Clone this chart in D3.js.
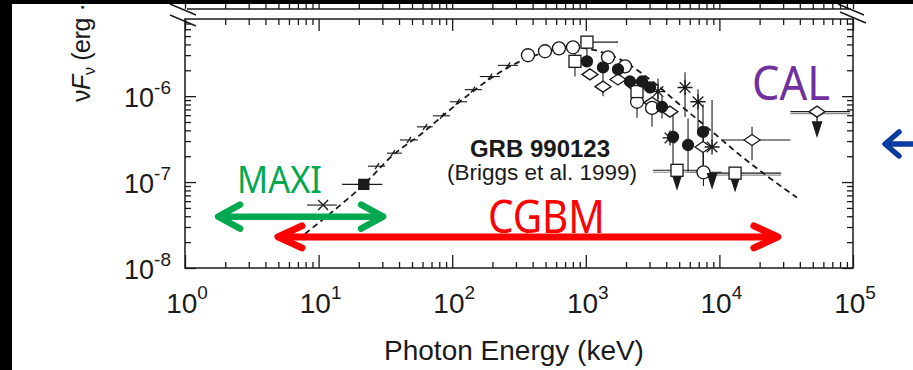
<!DOCTYPE html>
<html>
<head>
<meta charset="utf-8">
<script src="https://cdn.jsdelivr.net/npm/d3@7"></script>
<style>
  body { margin: 0; background: #fff; }
  svg { display: block; }
</style>
</head>
<body>
<div id="vis"></div>
<script>
const W = 913, H = 370;
const frame = { left: 185, right: 853, top: 19, bottom: 268 };

// axis ticks (keV, erg cm^-2 s^-1)
const xMajor = [1, 10, 100, 1000, 1e4, 1e5];
const xExp = ["0", "1", "2", "3", "4", "5"];
const yMajor = [1e-8, 1e-7, 1e-6];
const yExp = ["-8", "-7", "-6"];

// dashed Band-function fit
const modelE = [7.9, 13.3, 21.9, 36, 57.4, 88.3, 136, 209, 322, 495, 762, 1172, 1803, 3025, 5070, 8510, 14260, 23900, 38100];
const modelF = [2.5e-8, 4.8e-8, 9.4e-8, 2.06e-7, 3.53e-7, 6.2e-7, 1.07e-6, 1.74e-6, 2.54e-6, 3.24e-6, 3.71e-6, 3.42e-6, 2.68e-6, 1.56e-6, 7.9e-7, 4.05e-7, 2.06e-7, 1.11e-7, 6.6e-8];

// points: [E, F, Elo, Ehi, Flo, Fhi]
const lowPts = [
  [27.4, 1.53e-7, 23.4, 31.5], [36, 2.17e-7, 32.5, 42], [47.5, 3.09e-7, 40.6, 55.5],
  [62.6, 4.39e-7, 54.5, 71.6], [84, 5.9e-7, 71.6, 96], [110, 8.6e-7, 96, 129],
  [143, 1.19e-6, 124, 167], [192, 1.69e-6, 161, 228], [262, 2.28e-6, 220, 310]
];
const crossPts = [[10.8, 5.4e-8, 8.2, 13.7]];
const filledSquares = [[21.8, 9.4e-8, 15, 30]];
const openCircles = [
  [369, 2.99e-6], [495, 3.33e-6], [630, 3.6e-6], [802, 3.7e-6], [1466, 2.83e-6],
  [1965, 2.22e-6], [2417, 8.6e-7, null, null, 5.6e-7, 1.1e-6],
  [3131, 7.3e-7, null, null, 4.4e-7, 9e-7], [7600, 1.3e-7, 6000, 10400, 9e-8, 3.5e-7]
];
const openSquares = [
  [1020, 4.25e-6, 905, 1742, 2.68e-6, 5.0e-6], [830, 2.54e-6, null, null, 1.69e-6, 3.2e-6],
  [2417, 1.13e-6, null, null, 8.5e-7, 1.4e-6]
];
const filledCircles = [
  [1020, 2.54e-6], [1345, 2.16e-6], [1742, 2.05e-6], [2142, 1.48e-6], [2636, 1.48e-6],
  [3025, 1.26e-6], [3717, 7.5e-7, null, null, 5.5e-7, 1.0e-6],
  [4496, 3.35e-7, null, null, 1.5e-7, 6.0e-7], [5825, 2.7e-7, null, null, 1.3e-7, 5.5e-7],
  [7540, 3.84e-7, null, null, 1.5e-7, 8e-7]
];
const diamonds = [
  [1075, 1.79e-6], [1345, 1.29e-6, null, null, 1.0e-6, 1.9e-6], [1742, 1.56e-6],
  [2417, 1.26e-6], [3131, 8.4e-7], [4266, 6.6e-7], [7540, 2.56e-7],
  [17550, 3.09e-7, 10500, 34000, 1.8e-7, 4.4e-7]
];
const asterisks = [
  [3470, 1.13e-6, null, null, 8e-7, 1.6e-6], [5530, 1.26e-6, null, null, 5.7e-7, 1.9e-6],
  [6918, 8.6e-7, null, null, 3.5e-7, 1.2e-6], [4266, 3.26e-7], [8810, 2.56e-7, null, null, null, 9e-7]
];
// upper limits: [E, F, Ftip, Elo, Ehi, marker]
const upperLimits = [
  [4816, 1.37e-7, 8.4e-8, 3185, 8000, "square"],
  [8810, 1.3e-7, 8.6e-8, null, null, "none"],
  [13100, 1.27e-7, 8.0e-8, 8000, 29000, "square"],
  [53800, 6.6e-7, 3.44e-7, 34000, 95000, "diamond"]
];

// instrument bands drawn as annotations
const maxiRange = [1.77, 30.4], maxiLevel = 3.96e-8;
const cgbmRange = [4.96, 27400], cgbmLevel = 2.3e-8;

const svg = d3.select("#vis").append("svg")
  .attr("width", W)
  .attr("height", H)
  .style("font-family", "'Liberation Sans', Arial, sans-serif");

const x = d3.scaleLog().domain([1, 1e5]).range([frame.left, frame.right]);
const y = d3.scaleLog().domain([1e-8, 7.9e-6]).range([frame.bottom, frame.top]);

const xMinor = [1, 10, 100, 1000, 1e4].flatMap(p => [2, 3, 4, 5, 6, 7, 8, 9].map(k => k * p));
const yMinor = [1e-8, 1e-7, 1e-6].flatMap(p => [2, 3, 4, 5, 6, 7, 8, 9].map(k => k * p))
  .filter(v => v <= 7.9e-6);

const ink = "#1a1a1a";

function tickGroup(axis, transform) {
  const g = svg.append("g").attr("transform", transform).call(axis);
  g.select(".domain").remove();
  g.selectAll("line").attr("stroke", ink).attr("stroke-width", 1.3);
  return g;
}

// bottom
tickGroup(d3.axisBottom(x).tickValues(xMajor).tickSize(-13).tickFormat(""), `translate(0,${frame.bottom})`);
tickGroup(d3.axisBottom(x).tickValues(xMinor).tickSize(-6).tickFormat(""), `translate(0,${frame.bottom})`);
// top of frame
tickGroup(d3.axisTop(x).tickValues(xMajor).tickSize(-12).tickFormat(""), `translate(0,${frame.top})`);
tickGroup(d3.axisTop(x).tickValues(xMinor).tickSize(-6).tickFormat(""), `translate(0,${frame.top})`);
// broken upper panel line
tickGroup(d3.axisBottom(x).tickValues(xMajor).tickSize(-12).tickFormat(""), `translate(0,9)`);
tickGroup(d3.axisBottom(x).tickValues(xMinor).tickSize(-6).tickFormat(""), `translate(0,9)`);
// left / right
tickGroup(d3.axisLeft(y).tickValues(yMajor).tickSize(-11).tickFormat(""), `translate(${frame.left},0)`);
tickGroup(d3.axisLeft(y).tickValues(yMinor).tickSize(-6).tickFormat(""), `translate(${frame.left},0)`);
tickGroup(d3.axisRight(y).tickValues(yMajor).tickSize(-11).tickFormat(""), `translate(${frame.right},0)`);
tickGroup(d3.axisRight(y).tickValues(yMinor).tickSize(-6).tickFormat(""), `translate(${frame.right},0)`);

svg.append("rect")
  .attr("x", frame.left).attr("y", frame.top)
  .attr("width", frame.right - frame.left).attr("height", frame.bottom - frame.top)
  .attr("fill", "none").attr("stroke", ink).attr("stroke-width", 1.5);

svg.append("line")
  .attr("x1", frame.left + 2).attr("x2", frame.right - 2)
  .attr("y1", 9).attr("y2", 9)
  .attr("stroke", ink).attr("stroke-width", 1.5);

// break marks
[[170, 4, 196, 15], [170, 15, 196, 26], [838, 4, 864, 15], [840, 12, 866, 23]].forEach(s => {
  svg.append("line")
    .attr("x1", s[0]).attr("y1", s[1]).attr("x2", s[2]).attr("y2", s[3])
    .attr("stroke", ink).attr("stroke-width", 1.4);
});

// tick labels
const xl = svg.append("g").selectAll("text").data(xMajor).join("text")
  .attr("x", d => x(d) + 2)
  .attr("y", 313)
  .attr("text-anchor", "middle")
  .attr("font-size", 28)
  .attr("fill", ink);
xl.append("tspan").text("10");
xl.append("tspan").attr("dy", -14).attr("font-size", 19).text((d, i) => xExp[i]);

const yl = svg.append("g").selectAll("text").data(yMajor).join("text")
  .attr("x", 171)
  .attr("y", d => y(d) + 11)
  .attr("text-anchor", "end")
  .attr("font-size", 27)
  .attr("fill", ink);
yl.append("tspan").text("10");
yl.append("tspan").attr("dy", -13).attr("font-size", 19).text((d, i) => yExp[i]);

// axis titles
svg.append("text")
  .attr("x", 514).attr("y", 360)
  .attr("text-anchor", "middle")
  .attr("font-size", 28)
  .attr("fill", ink)
  .text("Photon Energy (keV)");

const yt = svg.append("text")
  .attr("transform", "translate(90,102) rotate(-90)")
  .attr("font-size", 25)
  .attr("letter-spacing", -0.4)
  .attr("fill", ink);
yt.append("tspan").text("ν");
yt.append("tspan").attr("font-style", "italic").text("F");
yt.append("tspan").attr("font-size", 16).attr("dy", 5).text("ν");
yt.append("tspan").attr("dy", -5).text(" (erg ·");

// error bars
const bars = svg.append("g").attr("stroke", ink).attr("stroke-width", 1.1);
function errorBars(data) {
  data.forEach(d => {
    if (d[2] != null) {
      bars.append("line")
        .attr("x1", x(d[2])).attr("x2", x(d[3]))
        .attr("y1", y(d[1])).attr("y2", y(d[1]));
    }
    if (d[4] != null || d[5] != null) {
      bars.append("line")
        .attr("x1", x(d[0])).attr("x2", x(d[0]))
        .attr("y1", y(d[4] ?? d[1])).attr("y2", y(d[5] ?? d[1]));
    }
  });
}
[lowPts, crossPts, filledSquares, openCircles, openSquares, filledCircles, diamonds, asterisks].forEach(errorBars);
upperLimits.forEach(d => {
  if (d[3] != null) {
    bars.append("line").attr("x1", x(d[3])).attr("x2", x(d[4])).attr("y1", y(d[1])).attr("y2", y(d[1]));
    bars.append("line").attr("x1", x(d[3])).attr("x2", x(d[4])).attr("y1", y(d[1]) + 2).attr("y2", y(d[1]) + 2)
      .attr("stroke", "#888");
  }
});

// model curve
const modelPts = modelE.map((e, i) => ({ e, f: modelF[i] }));
svg.append("path")
  .datum(modelPts)
  .attr("d", d3.line().x(d => x(d.e)).y(d => y(d.f)).curve(d3.curveMonotoneX))
  .attr("fill", "none")
  .attr("stroke", ink)
  .attr("stroke-width", 1.8)
  .attr("stroke-dasharray", "6,4");

// markers
const marks = svg.append("g").attr("stroke", ink).attr("stroke-width", 1.3);

lowPts.forEach(d => {
  marks.append("line")
    .attr("x1", x(d[0]) - 2).attr("x2", x(d[0]) + 2)
    .attr("y1", y(d[1]) + 3).attr("y2", y(d[1]) - 3);
});
crossPts.forEach(d => {
  const cx = x(d[0]), cy = y(d[1]);
  marks.append("path").attr("d", `M${cx - 5},${cy - 5}L${cx + 5},${cy + 5}M${cx - 5},${cy + 5}L${cx + 5},${cy - 5}`);
});
filledSquares.forEach(d => {
  marks.append("rect").attr("x", x(d[0]) - 5).attr("y", y(d[1]) - 5)
    .attr("width", 10).attr("height", 10).attr("fill", ink);
});
function diamondPath(cx, cy) {
  return `M${cx - 8},${cy}L${cx},${cy - 5.5}L${cx + 8},${cy}L${cx},${cy + 5.5}Z`;
}
diamonds.forEach(d => {
  marks.append("path").attr("d", diamondPath(x(d[0]), y(d[1]))).attr("fill", "#fff");
});
openCircles.forEach(d => {
  marks.append("circle").attr("cx", x(d[0])).attr("cy", y(d[1])).attr("r", 6.5).attr("fill", "#fff");
});
openSquares.forEach(d => {
  marks.append("rect").attr("x", x(d[0]) - 6).attr("y", y(d[1]) - 6)
    .attr("width", 12).attr("height", 12).attr("fill", "#fff");
});
filledCircles.forEach(d => {
  marks.append("circle").attr("cx", x(d[0])).attr("cy", y(d[1])).attr("r", 5.5).attr("fill", ink);
});
asterisks.forEach(d => {
  const cx = x(d[0]), cy = y(d[1]), r = 7.5;
  const p = [0, 45, 90, 135].map(a => {
    const t = a * Math.PI / 180;
    return `M${cx - r * Math.cos(t)},${cy - r * Math.sin(t)}L${cx + r * Math.cos(t)},${cy + r * Math.sin(t)}`;
  }).join("");
  marks.append("path").attr("d", p);
});
upperLimits.forEach(d => {
  const cx = x(d[0]), cy = y(d[1]), tip = y(d[2]);
  marks.append("line").attr("x1", cx).attr("x2", cx).attr("y1", cy).attr("y2", tip - 10);
  marks.append("path")
    .attr("d", `M${cx - 4.5},${tip - 14}L${cx + 4.5},${tip - 14}L${cx},${tip}Z`)
    .attr("fill", ink);
  if (d[5] === "square") {
    marks.append("rect").attr("x", cx - 6).attr("y", cy - 6).attr("width", 12).attr("height", 12).attr("fill", "#fff");
  } else if (d[5] === "diamond") {
    marks.append("path").attr("d", diamondPath(cx, cy)).attr("fill", "#fff");
  }
});

// burst label
svg.append("text")
  .attr("x", 540).attr("y", 157)
  .attr("text-anchor", "middle")
  .attr("font-size", 24)
  .attr("font-weight", "bold")
  .attr("fill", ink)
  .text("GRB 990123");
svg.append("text")
  .attr("x", 542).attr("y", 180)
  .attr("text-anchor", "middle")
  .attr("font-size", 22.5)
  .attr("fill", ink)
  .text("(Briggs et al. 1999)");

// instrument annotations
function doubleArrow(range, level, color, width, headLen, headHalf) {
  const x1 = x(range[0]), x2 = x(range[1]), yy = y(level);
  const g = svg.append("g")
    .attr("stroke", color).attr("stroke-width", width)
    .attr("stroke-linecap", "round").attr("stroke-linejoin", "round").attr("fill", "none");
  g.append("line").attr("x1", x1 + 2).attr("x2", x2 - 2).attr("y1", yy).attr("y2", yy);
  g.append("path").attr("d", `M${x1 + headLen},${yy - headHalf}L${x1},${yy}L${x1 + headLen},${yy + headHalf}`);
  g.append("path").attr("d", `M${x2 - headLen},${yy - headHalf}L${x2},${yy}L${x2 - headLen},${yy + headHalf}`);
}
doubleArrow(maxiRange, maxiLevel, "#00a84f", 6.5, 22, 12);
doubleArrow(cgbmRange, cgbmLevel, "#ff0000", 7, 24, 11);

const labelFont = "'Noto Sans', 'DejaVu Sans', sans-serif";
svg.append("text")
  .attr("x", 237).attr("y", 193)
  .attr("font-family", labelFont).attr("font-size", 39)
  .attr("textLength", 85).attr("lengthAdjust", "spacingAndGlyphs")
  .attr("fill", "#00a84f")
  .text("MAXI");
svg.append("text")
  .attr("x", 488).attr("y", 233)
  .attr("font-family", labelFont).attr("font-size", 46)
  .attr("textLength", 117).attr("lengthAdjust", "spacingAndGlyphs")
  .attr("fill", "#ff0000")
  .text("CGBM");
svg.append("text")
  .attr("x", 752).attr("y", 100)
  .attr("font-family", labelFont).attr("font-size", 48)
  .attr("textLength", 78).attr("lengthAdjust", "spacingAndGlyphs")
  .attr("fill", "#7030a0")
  .text("CAL");

// blue pointer at right edge
const blue = svg.append("g")
  .attr("stroke", "#0a3ca0").attr("stroke-width", 5.5)
  .attr("stroke-linecap", "round").attr("stroke-linejoin", "round").attr("fill", "none");
blue.append("line").attr("x1", 886).attr("x2", 915).attr("y1", 144).attr("y2", 144);
blue.append("path").attr("d", "M899,132L885,144L899,156");

// scan border
svg.append("rect").attr("x", 0).attr("y", 0).attr("width", 12).attr("height", H).attr("fill", "#000");
svg.append("rect").attr("x", 0).attr("y", 0).attr("width", W).attr("height", 4).attr("fill", "#000");
</script>
</body>
</html>
